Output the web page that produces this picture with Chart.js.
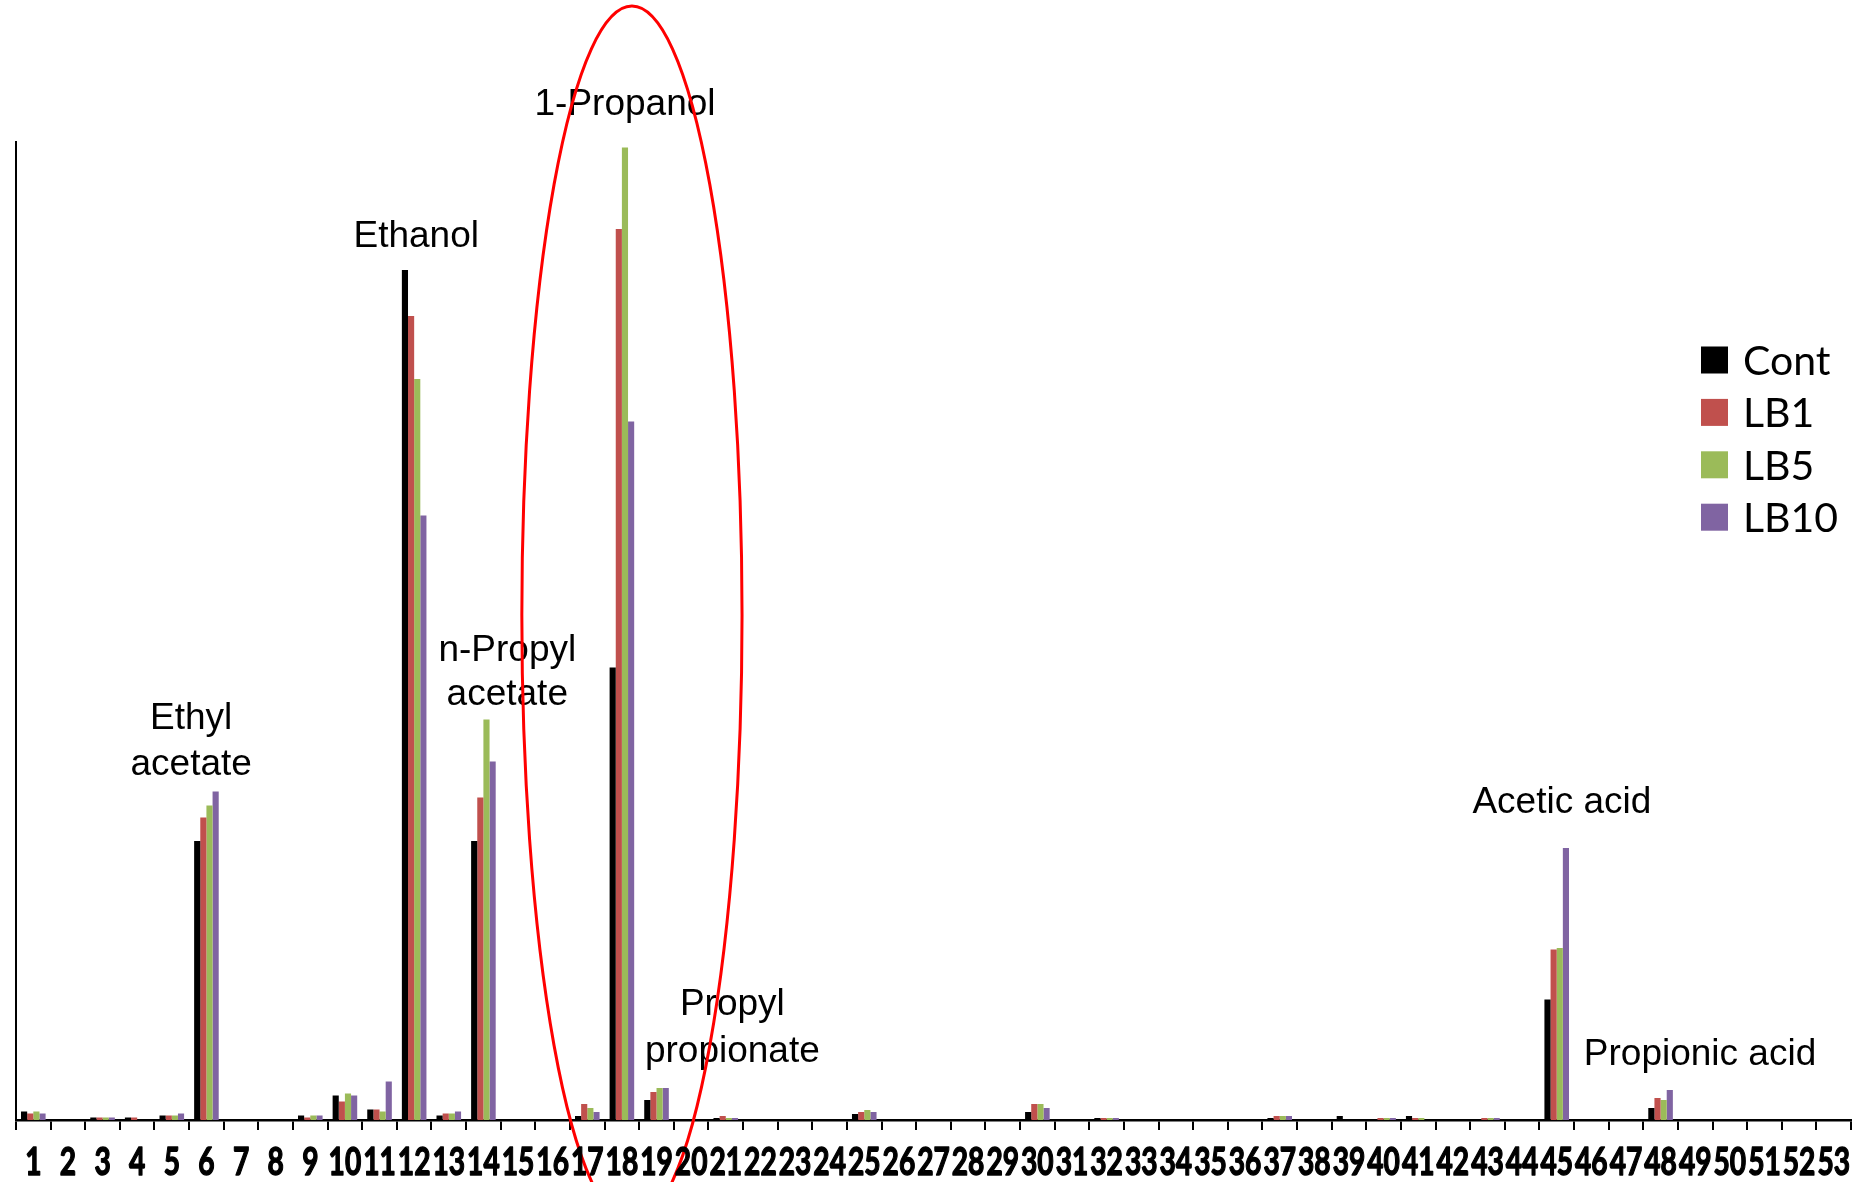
<!DOCTYPE html>
<html>
<head>
<meta charset="utf-8">
<script src="https://cdn.jsdelivr.net/npm/chart.js@4/dist/chart.umd.min.js"></script>
<style>
  html, body { margin: 0; padding: 0; background: #ffffff; }
  canvas { display: block; }
</style>
</head>
<body>
<canvas id="gc" width="1857" height="1182"></canvas>
<script>
// GC peak numbers along the x axis
const peakNumbers = ["1","2","3","4","5","6","7","8","9","10","11","12","13","14","15","16","17","18","19","20",
  "21","22","23","24","25","26","27","28","29","30","31","32","33","34","35","36","37","38","39","40",
  "41","42","43","44","45","46","47","48","49","50","51","52","53"];

// Relative peak areas per sample
const cont = [8.5,0,2.5,2.5,4.5,279,0,0,4.5,24.5,10.5,850,4.5,279,0,0,4,452.5,20,0,
  2,0,0,0,6,0,0,0,0,8,0,2,0,0,0,0,2,0,4,0,
  4,0,0,0,120.5,0,0,12,0,0,0,0,0];
const lb1 = [6.5,0,2.5,2.5,4.5,302.5,0,0,2.5,18.5,10.5,804,6.5,322.5,0,0,16,891,28,0,
  4,0,0,0,8,0,0,0,0,16,0,2,0,0,0,0,4,0,0,2,
  2,0,2,0,170.5,0,0,22,0,0,0,0,0];
const lb5 = [8.5,0,2.5,0,4.5,314.5,0,0,4.5,26.5,8.5,741,6.5,400.5,0,0,12,972.5,32,0,
  2,0,0,0,10,0,0,0,0,16,0,2,0,0,0,0,4,0,0,2,
  2,0,2,0,172,0,0,20,0,0,0,0,0];
const lb10 = [6.5,0,2.5,0,6.5,328.5,0,0,4.5,24.5,38.5,604.5,8.5,358.5,0,0,8,698.5,32,0,
  2,0,0,0,8,0,0,0,0,12,0,2,0,0,0,0,4,0,0,2,
  0,0,2,0,272,0,0,30,0,0,0,0,0];

const seriesNames = ["Cont", "LB1", "LB5", "LB10"];
const seriesColors = ["#000000", "#C0504D", "#9BBB59", "#8064A2"];
const yMax = 978;

// Compound names placed over their peaks (x in peak-index units, y in area units of the first line)
const compoundNames = [["Ethyl", "acetate"], ["Ethanol"], ["n-Propyl", "acetate"], ["1-Propanol"],
  ["Propyl", "propionate"], ["Acetic acid"], ["Propionic acid"]];
const compoundX = [4.56, 11.06, 13.69, 17.09, 20.19, 44.15, 48.14];
const compoundY = [391, 873, 459, 1005, 105, 307, 55];
const compoundLineGap = [46, 0, 44, 0, 47, 0, 0];

// Highlight ring around the propanol-related peaks
const ringCenterX = 17.29, ringCenterY = 505, ringHalfWidth = 3.18, ringHalfHeight = 609;

// Narrow heavy peak numbers under the axis, placed at the scale's own tick positions
const peakLabels = {
  id: 'peakLabels',
  afterDraw(chart) {
    const ctx = chart.ctx;
    const xs = chart.scales.x;
    const squeeze = 0.74;
    ctx.save();
    ctx.fillStyle = '#000';
    ctx.strokeStyle = '#000';
    ctx.lineWidth = 1.4;
    ctx.lineJoin = 'round';
    ctx.font = 'bold 38px Lato, "Liberation Sans", sans-serif';
    ctx.textAlign = 'center';
    ctx.textBaseline = 'alphabetic';
    const baseY = xs.top + 55;
    xs.ticks.forEach((t, i) => {
      const px = xs.getPixelForTick(i);
      const txt = xs.getLabelForValue(t.value);
      ctx.save();
      ctx.translate(px, baseY);
      ctx.scale(squeeze, 1);
      ctx.fillText(txt, 0, 0);
      ctx.strokeText(txt, 0, 0);
      ctx.restore();
    });
    ctx.restore();
  }
};

const annotations = {
  id: 'annotations',
  afterDraw(chart) {
    const ctx = chart.ctx;
    const xs = chart.scales.x, ys = chart.scales.y;
    const catW = (xs.right - xs.left) / peakNumbers.length;
    const xAt = v => xs.left + (v + 0.5) * catW;

    ctx.save();
    // compound names
    ctx.fillStyle = '#000';
    ctx.font = '37px "Liberation Sans", Arial, sans-serif';
    ctx.textAlign = 'center';
    ctx.textBaseline = 'alphabetic';
    compoundNames.forEach((lines, i) => {
      const cx = xAt(compoundX[i]);
      const y0 = ys.getPixelForValue(compoundY[i]);
      lines.forEach((t, k) => ctx.fillText(t, cx, y0 + k * compoundLineGap[i]));
    });

    // ellipse
    ctx.beginPath();
    ctx.strokeStyle = '#FF0000';
    ctx.lineWidth = 3;
    const ecx = xAt(ringCenterX);
    const ecy = ys.getPixelForValue(ringCenterY);
    const erx = ringHalfWidth * catW;
    const ery = ys.getPixelForValue(0) - ys.getPixelForValue(ringHalfHeight);
    ctx.ellipse(ecx, ecy, erx, ery, 0, 0, Math.PI * 2);
    ctx.stroke();

    // legend
    ctx.font = '41px Lato, "Open Sans", sans-serif';
    ctx.textAlign = 'left';
    chart.data.datasets.forEach((ds, i) => {
      const cy = 360 + i * 52.4;
      ctx.fillStyle = ds.backgroundColor;
      ctx.fillRect(1701, cy - 13.5, 27, 27);
      ctx.fillStyle = '#000';
      ctx.fillText(ds.label, 1743, cy + 15);
    });
    ctx.restore();
  }
};

new Chart(document.getElementById('gc'), {
  type: 'bar',
  data: {
    labels: peakNumbers,
    datasets: [cont, lb1, lb5, lb10].map((d, i) => ({
      label: seriesNames[i],
      data: d,
      backgroundColor: seriesColors[i],
      borderWidth: 0,
      barPercentage: 1.0,
      categoryPercentage: 0.71
    }))
  },
  options: {
    responsive: false,
    animation: false,
    devicePixelRatio: 1,
    layout: { padding: { left: 16, right: 6, top: 142, bottom: 0 } },
    plugins: { legend: { display: false }, tooltip: { enabled: false }, title: { display: false } },
    scales: {
      x: {
        offset: true,
        afterFit(scale) { scale.height = 62; },
        grid: { display: true, offset: true, drawOnChartArea: false, drawTicks: true, tickLength: 10, color: '#000', lineWidth: 2 },
        border: { display: true, color: '#000', width: 2.5 },
        ticks: { display: false, autoSkip: false, padding: 0 }
      },
      y: {
        min: 0, max: yMax,
        afterFit(scale) { scale.width = 0; },
        grid: { display: false },
        border: { display: true, color: '#000', width: 2 },
        ticks: { display: false }
      }
    }
  },
  plugins: [annotations, peakLabels]
});
</script>
</body>
</html>
